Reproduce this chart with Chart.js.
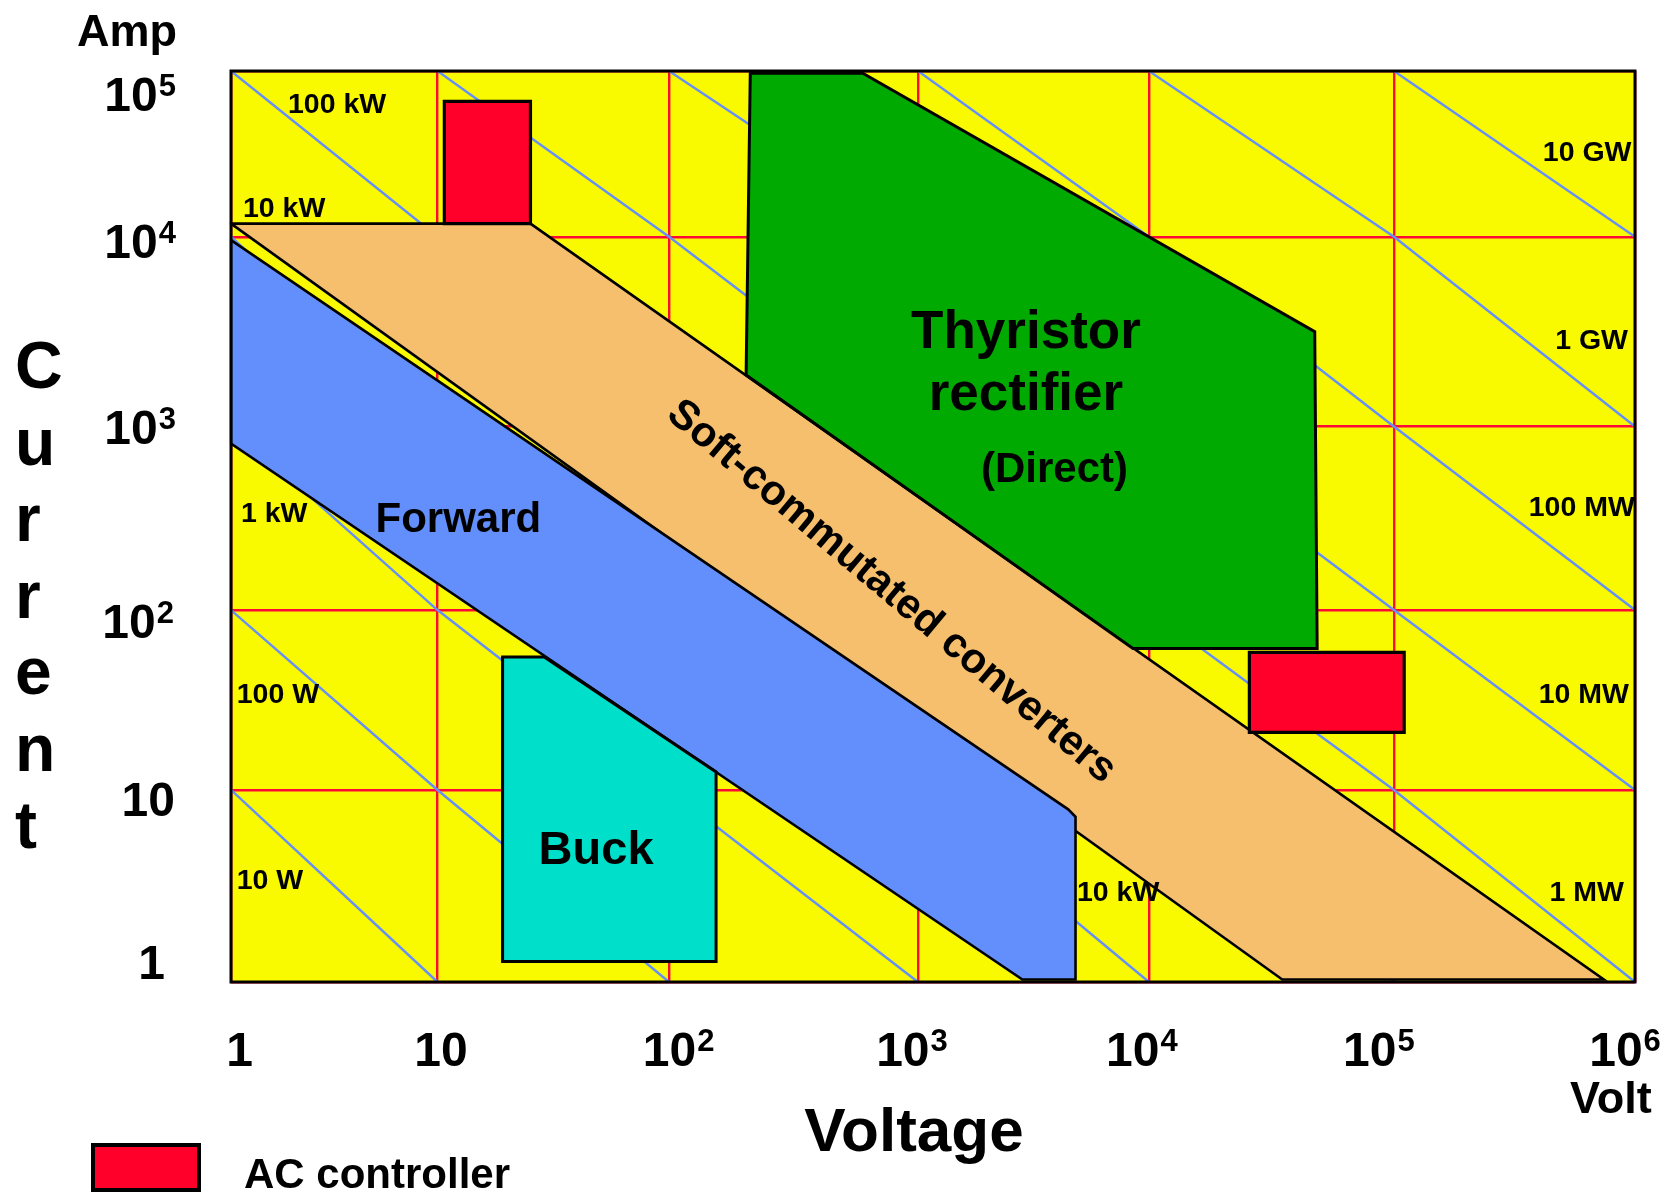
<!DOCTYPE html>
<html>
<head>
<meta charset="utf-8">
<title>Power converter operating areas</title>
<script src="https://cdn.jsdelivr.net/npm/chart.js"></script>
<style>
  html, body { margin: 0; padding: 0; background: #ffffff; }
  canvas { display: block; }
</style>
</head>
<body>
<canvas id="chart" width="1672" height="1197"></canvas>
<script>
// ---------------- data ----------------
// Decades on each axis (volts, amperes)
const voltDecades = [1, 10, 100, 1e3, 1e4, 1e5, 1e6];
const ampDecades = [1, 10, 100, 1e3, 1e4, 1e5];
const voltTickText = [['1', ''], ['10', ''], ['10', '2'], ['10', '3'], ['10', '4'], ['10', '5'], ['10', '6']];
const ampTickText = [['1', ''], ['10', ''], ['10', '2'], ['10', '3'], ['10', '4'], ['10', '5']];

// Operating regions, vertices as [volts, amperes]
const softCommutated = [[1, 12000], [25.2, 12000], [742000, 1.03], [35000, 1.03]];
const forward = [[1, 9600], [4470, 7.93], [4810, 7.25], [4810, 1.03], [2830, 1.03], [1, 807]];
const thyristor = [[212, 97000], [600, 97000], [47500, 3160], [48600, 61.2], [8530, 61.2], [204, 1867]];
const buck = [[19.1, 54.9], [28.9, 54.9], [154.5, 12.6], [154.5, 1.28], [19.1, 1.28]];
const acControllerLow = [[10.7, 65500], [25.2, 65500], [25.2, 12000], [10.7, 12000]];
const acControllerHigh = [[25700, 58.1], [110300, 58.1], [110300, 20.9], [25700, 20.9]];

// Constant-power lines, points as [volts, amperes]
const powerNames = ['10 W', '100 W', '1 kW', '10 kW', '100 kW', '1 MW', '10 MW', '100 MW', '1 GW', '10 GW'];
const powerLines = [
  [[1, 10], [10, 1]],
  [[1, 100], [10, 10], [100, 1]],
  [[1, 1e3], [10, 100], [100, 10], [1e3, 1]],
  [[1, 1e4], [10, 1e3], [100, 100], [1e3, 10], [1e4, 1]],
  [[1, 1e5], [10, 1e4], [100, 1e3], [1e3, 100], [1e4, 10], [1e5, 1]],
  [[10, 1e5], [100, 1e4], [1e3, 1e3], [1e4, 100], [1e5, 10], [1e6, 1]],
  [[100, 1e5], [1e3, 1e4], [1e4, 1e3], [1e5, 100], [1e6, 10]],
  [[1e3, 1e5], [1e4, 1e4], [1e5, 1e3], [1e6, 100]],
  [[1e4, 1e5], [1e5, 1e4], [1e6, 1e3]],
  [[1e5, 1e5], [1e6, 1e4]]
];

// ---------------- layout / style ----------------
const FONT = '"Liberation Sans", Arial, Helvetica, sans-serif';
const COLORS = {
  field: '#f9f900',
  grid: '#ff0a36',
  power: '#6790f6',
  soft: '#f5bf6d',
  forward: '#628ffb',
  thyristor: '#00aa00',
  buck: '#00dfca',
  ac: '#ff002b'
};

// Where each decade sits along its axis (fraction of the axis length)
const axisStops = {
  x: { decades: voltDecades, fractions: [0, 0.1471, 0.3120, 0.4893, 0.6538, 0.8283, 1] },
  y: { decades: ampDecades, fractions: [0, 0.2108, 0.4083, 0.6098, 0.8181, 1] }
};

// Labels on the constant-power lines, anchored in volts / amperes
const powerTags = [
  { text: '10 W', v: 1.066, a: 3.37, align: 'left' },
  { text: '100 W', v: 1.066, a: 33.7, align: 'left' },
  { text: '1 kW', v: 1.118, a: 333, align: 'left' },
  { text: '10 kW', v: 1.143, a: 14700, align: 'left' },
  { text: '10 kW', v: 4880, a: 2.89, align: 'left' },
  { text: '100 kW', v: 1.888, a: 61800, align: 'left' },
  { text: '1 MW', v: 899000, a: 2.89, align: 'right' },
  { text: '10 MW', v: 944000, a: 33.7, align: 'right' },
  { text: '100 MW', v: 998000, a: 357, align: 'right' },
  { text: '1 GW', v: 935000, a: 2822, align: 'right' },
  { text: '10 GW', v: 967000, a: 31800, align: 'right' }
];

// Region names (baseline-anchored, centred)
const regionTags = [
  { text: 'Thyristor', v: 2934, a: 2604, size: 53 },
  { text: 'rectifier', v: 2934, a: 1214, size: 53 },
  { text: '(Direct)', v: 3901, a: 498, size: 42 },
  { text: 'Forward', v: 12.3, a: 266, size: 42 },
  { text: 'Buck', v: 48.4, a: 4.13, size: 47 }
];
const softTag = { text: 'Soft-commutated converters', v: 782, a: 125.7, size: 42, angle: 40 };

const xTickShift = [8.5, 3.5, 9.6, -6, -7, -15, -10];
const yTickShift = [-20, 9, 11, 1, 4, 23];
const yTickRight = [165, 175, 174, 176, 176, 176];

// ---------------- decade scale ----------------
// Logarithmic axis whose decades may have individual lengths.
class DecadeScale extends Chart.Scale {
  static id = 'decade';
  static defaults = {};

  determineDataLimits() {
    const d = axisStops[this.id].decades;
    this.min = d[0];
    this.max = d[d.length - 1];
  }
  buildTicks() {
    return axisStops[this.id].decades.map(v => ({ value: v }));
  }
  getLabelForValue(v) { return String(v); }

  toDecimal(v) {
    const { decades, fractions } = axisStops[this.id];
    const lv = Math.log10(v);
    let i = 0;
    while (i < decades.length - 2 && lv > Math.log10(decades[i + 1])) i++;
    const a = Math.log10(decades[i]), b = Math.log10(decades[i + 1]);
    return fractions[i] + (lv - a) / (b - a) * (fractions[i + 1] - fractions[i]);
  }
  getPixelForValue(v) {
    if (v === null || v === undefined || !(v > 0)) return NaN;
    return this.getPixelForDecimal(this.toDecimal(v));
  }
  getValueForPixel(p) {
    const { decades, fractions } = axisStops[this.id];
    const f = this.getDecimalForPixel(p);
    let i = 0;
    while (i < fractions.length - 2 && f > fractions[i + 1]) i++;
    const a = Math.log10(decades[i]), b = Math.log10(decades[i + 1]);
    return Math.pow(10, a + (f - fractions[i]) / (fractions[i + 1] - fractions[i]) * (b - a));
  }
}
Chart.register(DecadeScale);

// ---------------- datasets ----------------
const toPoints = pts => pts.map(([x, y]) => ({ x, y }));

function region(label, pts, color, order, width) {
  return {
    label,
    data: toPoints(pts.concat([pts[0]])),
    backgroundColor: color,
    borderColor: '#000000',
    borderWidth: width,
    borderJoinStyle: 'miter',
    borderCapStyle: 'square',
    fill: 'shape',
    order
  };
}

const datasets = [];
powerLines.forEach((pts, i) => {
  datasets.push({
    label: powerNames[i],
    data: toPoints(pts),
    borderColor: COLORS.power,
    borderWidth: 2.4,
    fill: false,
    order: 20
  });
});
datasets.push(region('Soft-commutated converters', softCommutated, COLORS.soft, 6, 2.6));
datasets.push(region('Forward', forward, COLORS.forward, 5, 2.6));
datasets.push(region('Thyristor rectifier (Direct)', thyristor, COLORS.thyristor, 4, 3));
datasets.push(region('Buck', buck, COLORS.buck, 3, 3));
datasets.push(region('AC controller', acControllerLow, COLORS.ac, 2, 3.2));
datasets.push(region('AC controller', acControllerHigh, COLORS.ac, 1, 3.2));

// ---------------- drawing helpers ----------------
function font(size) { return 'bold ' + size + 'px ' + FONT; }

// "10" with a raised exponent
function drawPowerOfTen(ctx, parts, x, baseline, align, size, expSize) {
  const [base, exp] = parts;
  ctx.font = font(size);
  const wb = ctx.measureText(base).width;
  ctx.font = font(expSize);
  const we = exp ? ctx.measureText(exp).width + 1 : 0;
  const total = wb + we;
  const left = align === 'right' ? x - total : (align === 'center' ? x - total / 2 : x);
  ctx.textAlign = 'left';
  ctx.textBaseline = 'alphabetic';
  ctx.font = font(size);
  ctx.fillText(base, left, baseline);
  if (exp) {
    const raise = 0.716 * size + 3 - 0.716 * expSize;
    ctx.font = font(expSize);
    ctx.fillText(exp, left + wb + 1, baseline - raise);
  }
}

const decor = {
  id: 'decor',
  beforeDraw(chart) {
    const { ctx, chartArea: a } = chart;
    ctx.save();
    ctx.fillStyle = '#ffffff';
    ctx.fillRect(0, 0, chart.width, chart.height);
    ctx.fillStyle = COLORS.field;
    ctx.fillRect(a.left, a.top, a.right - a.left, a.bottom - a.top);
    ctx.restore();
  },
  afterDatasetsDraw(chart) {
    const { ctx, chartArea: a } = chart;
    const xs = chart.scales.x, ys = chart.scales.y;
    ctx.save();
    // frame
    ctx.strokeStyle = '#000000';
    ctx.lineWidth = 3;
    ctx.strokeRect(a.left, a.top, a.right - a.left, a.bottom - a.top);

    ctx.fillStyle = '#000000';
    // power-line labels
    ctx.font = font(28.5);
    ctx.textBaseline = 'middle';
    powerTags.forEach(t => {
      ctx.textAlign = t.align;
      ctx.fillText(t.text, xs.getPixelForValue(t.v), ys.getPixelForValue(t.a));
    });
    // region names
    ctx.textAlign = 'center';
    ctx.textBaseline = 'alphabetic';
    regionTags.forEach(t => {
      ctx.font = font(t.size);
      ctx.fillText(t.text, xs.getPixelForValue(t.v), ys.getPixelForValue(t.a));
    });
    // rotated band name
    ctx.save();
    ctx.translate(xs.getPixelForValue(softTag.v), ys.getPixelForValue(softTag.a));
    ctx.rotate(softTag.angle * Math.PI / 180);
    ctx.font = font(softTag.size);
    ctx.textAlign = 'center';
    ctx.textBaseline = 'middle';
    ctx.fillText(softTag.text, 0, 0);
    ctx.restore();
    ctx.restore();
  },
  afterDraw(chart) {
    const { ctx } = chart;
    const xs = chart.scales.x, ys = chart.scales.y;
    ctx.save();
    ctx.fillStyle = '#000000';

    // tick labels
    voltDecades.forEach((v, i) => {
      drawPowerOfTen(ctx, voltTickText[i], xs.getPixelForValue(v) + xTickShift[i], 1066, 'center', 48, 31);
    });
    ampDecades.forEach((a, i) => {
      drawPowerOfTen(ctx, ampTickText[i], yTickRight[i], ys.getPixelForValue(a) + yTickShift[i] + 17, 'right', 48, 31);
    });

    // units and axis titles
    ctx.textAlign = 'left';
    ctx.textBaseline = 'alphabetic';
    ctx.font = font(45);
    ctx.fillText('Amp', 77, 46);
    ctx.fillText('Volt', 1570, 1113);
    ctx.font = font(62);
    ctx.textAlign = 'center';
    ctx.fillText('Voltage', 914, 1151);

    ctx.font = font(66);
    ctx.textAlign = 'left';
    const letters = 'Current'.split('');
    letters.forEach((ch, i) => ctx.fillText(ch, 15, 388 + i * 76.6));

    // legend
    ctx.fillStyle = COLORS.ac;
    ctx.fillRect(93, 1145, 106, 45);
    ctx.strokeStyle = '#000000';
    ctx.lineWidth = 4;
    ctx.strokeRect(93, 1145, 106, 45);
    ctx.fillStyle = '#000000';
    ctx.font = font(42);
    ctx.textAlign = 'left';
    ctx.fillText('AC controller', 244, 1188);
    ctx.restore();
  }
};

// ---------------- chart ----------------
const axisCommon = {
  type: 'decade',
  grid: { color: COLORS.grid, lineWidth: 2.4, drawTicks: false },
  border: { display: false },
  ticks: { display: false }
};

new Chart(document.getElementById('chart'), {
  type: 'line',
  data: { datasets },
  options: {
    responsive: false,
    animation: false,
    devicePixelRatio: 1,
    events: [],
    layout: { padding: { left: 231, top: 71, right: 37, bottom: 215 } },
    elements: {
      line: { tension: 0 },
      point: { radius: 0, hoverRadius: 0 }
    },
    scales: {
      x: Object.assign({ axis: 'x', position: 'bottom' }, axisCommon),
      y: Object.assign({ axis: 'y', position: 'left' }, axisCommon)
    },
    plugins: {
      legend: { display: false },
      tooltip: { enabled: false }
    }
  },
  plugins: [decor]
});
</script>
</body>
</html>
